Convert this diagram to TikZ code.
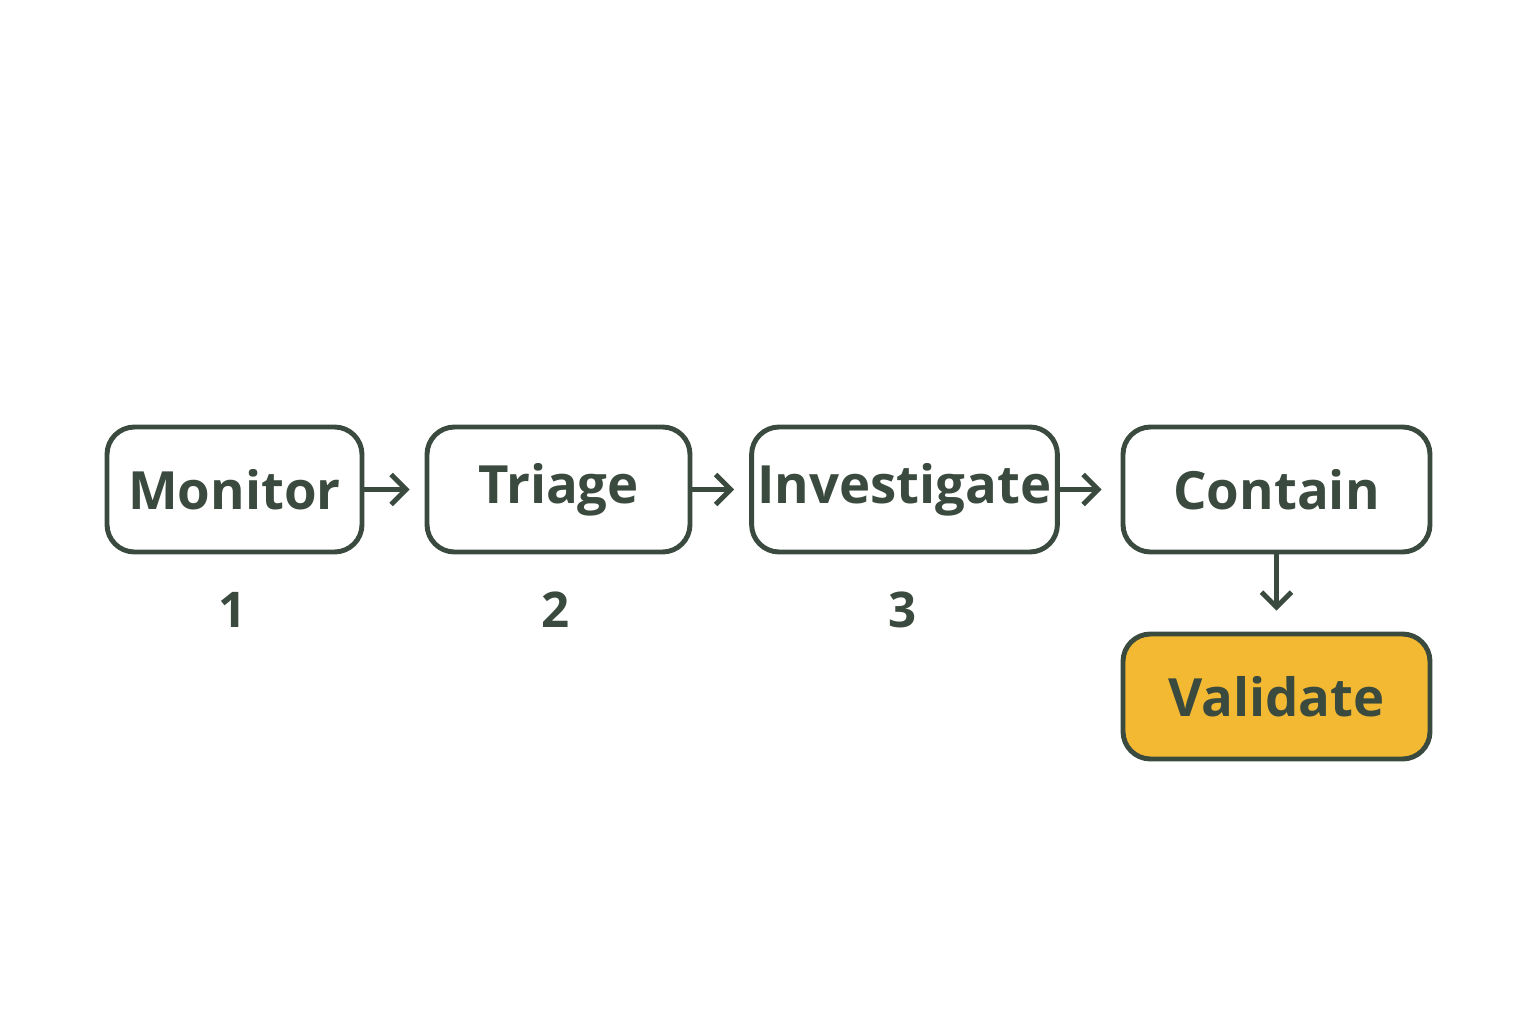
\documentclass[tikz,border=0pt]{standalone}
\usepackage{fontspec}
\setmainfont{Open Sans}
\usetikzlibrary{arrows.meta}
\definecolor{ink}{HTML}{3A4A3E}
\definecolor{gold}{HTML}{F3B933}
\tikzset{
  box/.style={draw=ink, line width=2.8pt, rounded corners=0.55cm, fill=white, minimum height=2.5cm, text=ink, font=\fontsize{30}{36}\selectfont\bfseries},
  num/.style={text=ink, font=\fontsize{28}{34}\selectfont\bfseries},
  conn/.style={draw=ink, line width=2.8pt, -{Straight Barb[length=0.3cm,width=0.6cm,line width=2.8pt]}}
}
\begin{document}
\begin{tikzpicture}
\useasboundingbox[fill=white] (0,0) rectangle (30.72,20.48);
\node[box, minimum width=5.1cm] (mon) at (4.69,10.69) {Monitor};
\node[box, minimum width=5.26cm] (tri) at (11.17,10.69) {Triage};
\node[box, minimum width=5.98cm] (inv) at (18.09,10.69) {Investigate};
\node[box, minimum width=6.14cm] (con) at (25.53,10.69) {Contain};
\node[box, minimum width=6.14cm, fill=gold] (val) at (25.53,6.55) {Validate};
\node[num] (n1) at (4.66,8.28) {1};
\node[num] (n2) at (11.12,8.28) {2};
\node[num] (n3) at (18.06,8.28) {3};
\draw[conn] (mon.east) -- ([xshift=-0.3cm]tri.west);
\draw[conn] (tri.east) -- ([xshift=-0.3cm]inv.west);
\draw[conn] (inv.east) -- ([xshift=-0.38cm]con.west);
\draw[conn] (con.south) -- ([yshift=0.42cm]val.north);
\end{tikzpicture}
\end{document}
